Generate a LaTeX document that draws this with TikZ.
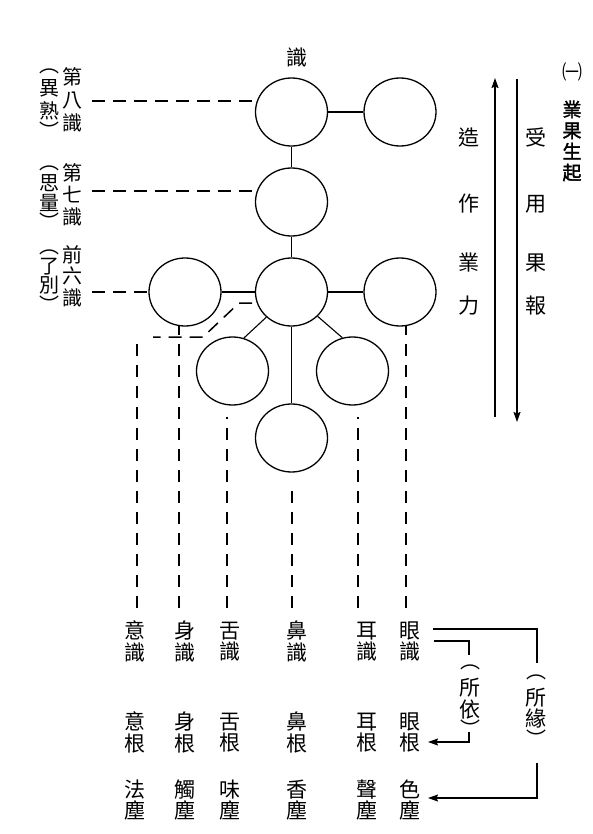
\documentclass[tikz,border=0pt]{standalone}
\usepackage{fontspec}
\setmainfont{Noto Sans CJK TC}
\newfontfamily\cjkbold{Noto Sans CJK TC}[FakeBold=2]
\usetikzlibrary{arrows.meta,shapes.geometric}
\begin{document}
\begin{tikzpicture}[x=1pt,y=-1pt,
  circ/.style={draw, ellipse, minimum width=72pt, minimum height=68pt, inner sep=0pt, line width=1.3pt},
  txt/.style={inner sep=0pt, font=\fontsize{21}{22}\selectfont},
  vs/.style={inner sep=0pt, align=center, font=\fontsize{21}{#1}\selectfont},
  lvs/.style={inner sep=0pt, align=center, font=\fontsize{20}{#1}\selectfont},
  br/.style={inner sep=0pt, font=\fontsize{20}{22}\selectfont},
  hdash/.style={line width=1.5pt, dash pattern=on 13pt off 8pt},
  vdash/.style={line width=1.7pt, dash pattern=on 12pt off 9pt},
  link/.style={line width=1.1pt},
  link2/.style={line width=1.3pt},
  arr/.style={line width=1.5pt, -{Stealth[length=10pt,width=7pt,inset=1.5pt]}},
  arr2/.style={line width=1.3pt, -{Stealth[length=10pt,width=7pt,inset=1.5pt]}}
]
\useasboundingbox[fill=white] (0,0) rectangle (593,834);

% circles
\node[circ] (c8) at (291.5,112) {};
\node[circ] (cR) at (400,112) {};
\node[circ] (c7) at (291.5,202) {};
\node[circ] (c6L) at (185,292) {};
\node[circ] (c6) at (291.5,292) {};
\node[circ] (c6R) at (400,292) {};
\node[circ] (cLL) at (232.5,371) {};
\node[circ] (cLR) at (352.5,371) {};
\node[circ] (cB) at (291.5,438) {};

\node[txt] (shi) at (297,57) {識};

% solid links
\draw[link] (c8) -- (cR);
\draw[link] (c8) -- (c7);
\draw[link] (c7) -- (c6);
\draw[link] (c6L) -- (c6);
\draw[link] (c6) -- (c6R);
\draw[link] (c6) -- (cB);
\draw[link] (c6.225) -- (cLL.71);
\draw[link] (c6.317) -- (cLR.107);

% left labels
\node[lvs=23] (n8) at (72.5,100) {第\\八\\識};
\node[lvs=22.5] (y8) at (49,100) {異\\熟};
\node[br] (y8a) at (49,71) {︵};
\node[br] (y8b) at (49,130) {︶};
\node[lvs=22] (n7) at (72.5,195) {第\\七\\識};
\node[lvs=19.5] (y7) at (49,193) {思\\量};
\node[br] (y7a) at (49,168) {︵};
\node[br] (y7b) at (49,221) {︶};
\node[lvs=21.5] (n6) at (72.5,276) {前\\六\\識};
\node[lvs=19] (y6) at (49,276.5) {了\\別};
\node[br] (y6a) at (49,252) {︵};
\node[br] (y6b) at (49,304) {︶};

% horizontal dashed
\coordinate (d8) at (92,101);
\draw[hdash] (d8) -- (d8 -| c8.162);
\coordinate (d7) at (92,191);
\draw[hdash] (d7) -- (d7 -| c7.162);
\coordinate (d6) at (92,292);
\draw[hdash] (d6) -- (c6L.west);

% bent dashed path
\coordinate (b0) at (252,303);
\coordinate (b1) at (239,303);
\coordinate (b2) at (203,337);
\coordinate (b3) at (153,337);
\draw[hdash] (b0) -- (b1) -- (b2) -- (b3);

% vertical dashed columns (drawn bottom-up so phases line up)
\coordinate (v1t) at (137,337);   \coordinate (v1b) at (137,608);
\coordinate (v2t) at (179,325.5); \coordinate (v2b) at (179,608);
\coordinate (v3t) at (227,417);   \coordinate (v3b) at (227,608);
\coordinate (v4t) at (292,483);   \coordinate (v4b) at (292,608);
\coordinate (v5t) at (358,417);   \coordinate (v5b) at (358,608);
\coordinate (v6t) at (406,325.5); \coordinate (v6b) at (406,608);
\draw[vdash] (v1b) -- (v1t);
\draw[vdash] (v2b) -- (v2t);
\draw[vdash] (v3b) -- (v3t);
\draw[vdash] (v4b) -- (v4t);
\draw[vdash] (v5b) -- (v5t);
\draw[vdash] (v6b) -- (v6t);

% right arrows and texts
\coordinate (au0) at (495,417); \coordinate (au1) at (495,78);
\coordinate (ad0) at (517,79);  \coordinate (ad1) at (517,422);
\draw[arr] (au0) -- (au1);
\draw[arr] (ad0) -- (ad1);
\node[txt] (z1) at (469,137.5) {造};
\node[txt] (z2) at (469,204) {作};
\node[txt] (z3) at (469,263) {業};
\node[txt] (z4) at (469,306) {力};
\node[txt] (s1) at (536,137.5) {受};
\node[txt] (s2) at (536,204) {用};
\node[txt] (s3) at (536,263) {果};
\node[txt] (s4) at (536,306) {報};

\node[inner sep=0pt, font=\fontsize{20}{21}\selectfont] (one) at (572,72) {㈠};
\node[inner sep=0pt, align=center, font=\cjkbold\fontsize{19}{21}\selectfont] (title) at (572,141) {業\\果\\生\\起};

% bottom labels
\node[vs=21.5] (ya) at (135,641.5) {意\\識};
\node[vs=21.5] (yb) at (185,641.5) {身\\識};
\node[vs=21.5] (yc) at (230,641.5) {舌\\識};
\node[vs=21.5] (yd) at (297,641.5) {鼻\\識};
\node[vs=21.5] (ye) at (367,641.5) {耳\\識};
\node[vs=21.5] (yf) at (410,641.5) {眼\\識};

\node[vs=21.5] (ga) at (135,732.5) {意\\根};
\node[vs=21.5] (gb) at (185,732.5) {身\\根};
\node[vs=21.5] (gc) at (230,732.5) {舌\\根};
\node[vs=21.5] (gd) at (297,732.5) {鼻\\根};
\node[vs=21.5] (ge) at (367,732.5) {耳\\根};
\node[vs=21.5] (gf) at (410,732.5) {眼\\根};

\node[vs=21.5] (ca) at (135,800) {法\\塵};
\node[vs=21.5] (cb) at (185,800) {觸\\塵};
\node[vs=21.5] (cc) at (230,800) {味\\塵};
\node[vs=21.5] (cd) at (297,800) {香\\塵};
\node[vs=21.5] (ce) at (367,800) {聲\\塵};
\node[vs=21.5] (cf) at (410,800) {色\\塵};

% brackets on the right
\node[vs=21] (syuan) at (536,708) {所\\緣};
\node[br] (syuana) at (536,677) {︵};
\node[br] (syuanb) at (536,738) {︶};
\node[vs=22] (syi) at (470,698.5) {所\\依};
\node[br] (syia) at (470,667) {︵};
\node[br] (syib) at (470,728) {︶};

\coordinate (p1) at (433,629); \coordinate (p3) at (537,663);
\coordinate (p4) at (537,763); \coordinate (p5) at (428,798);
\draw[link2] (p1) -| (p3);
\draw[arr2] (p4) |- (p5);
\coordinate (q1) at (434,641); \coordinate (q3) at (469,655);
\coordinate (q4) at (469,732); \coordinate (q5) at (428,742);
\draw[link2] (q1) -| (q3);
\draw[arr2] (q4) |- (q5);
\end{tikzpicture}
\end{document}
